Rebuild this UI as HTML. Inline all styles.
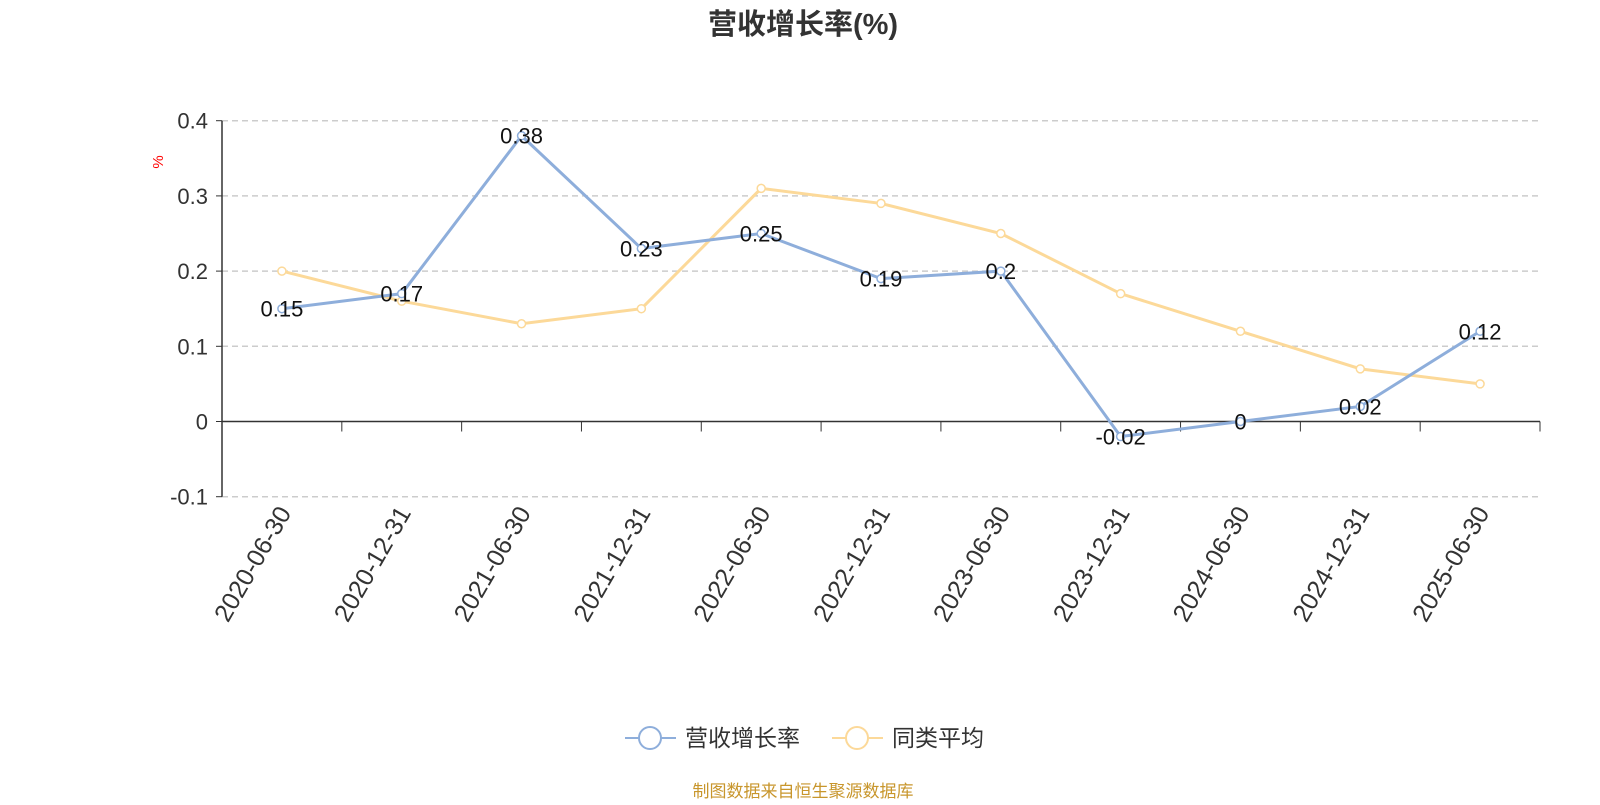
<!DOCTYPE html>
<html><head><meta charset="utf-8"><style>
body{margin:0;background:#fff;}
svg text{font-family:"Liberation Sans","Noto Sans CJK SC",sans-serif;}
</style></head><body>
<svg id="chart" width="1600" height="800">
<text x="803" y="34" text-anchor="middle" font-size="29" font-weight="bold" fill="#333">营收增长率(%)</text>
<text transform="translate(163,162) rotate(-90)" text-anchor="middle" font-size="15" fill="#f00">%</text>
<g id="grid"></g><g id="axes"></g><g id="series"></g>
<g>
<g>
<line x1="625" y1="738" x2="676" y2="738" stroke="#8eaedb" stroke-width="2"/>
<circle cx="650" cy="738" r="11" fill="#fff" stroke="#8eaedb" stroke-width="2"/>
<text x="685" y="746" font-size="23" fill="#333">营收增长率</text></g>
<g>
<line x1="832" y1="738" x2="883" y2="738" stroke="#fcd999" stroke-width="2"/>
<circle cx="857" cy="738" r="11" fill="#fff" stroke="#fcd999" stroke-width="2"/>
<text x="892" y="746" font-size="23" fill="#333">同类平均</text></g>
</g>
<text x="803" y="797" text-anchor="middle" font-size="17" fill="#c8962c">制图数据来自恒生聚源数据库</text>
</svg>
<script>
const categories=["2020-06-30","2020-12-31","2021-06-30","2021-12-31","2022-06-30","2022-12-31","2023-06-30","2023-12-31","2024-06-30","2024-12-31","2025-06-30"];
const revenueGrowth=[0.15,0.17,0.38,0.23,0.25,0.19,0.2,-0.02,0,0.02,0.12];
const peerAverage=[0.2,0.16,0.13,0.15,0.31,0.29,0.25,0.17,0.12,0.07,0.05];
const yTicks=[0.4,0.3,0.2,0.1,0,-0.1];
const NS="http://www.w3.org/2000/svg";
const L=222,R=1540,band=(R-L)/categories.length;
const y=v=>421.5-v*752;
const x=i=>L+band*(i+0.5);
function mk(tag,attrs,parent){const e=document.createElementNS(NS,tag);for(const k in attrs)e.setAttribute(k,attrs[k]);parent.appendChild(e);return e;}
const grid=document.getElementById('grid'),axes=document.getElementById('axes'),series=document.getElementById('series');
yTicks.forEach(t=>{
 if(t!==0){const g=mk('line',{x1:L,x2:R,y1:y(t),y2:y(t),stroke:'#ccc','stroke-dasharray':'6,4','stroke-width':1.5},grid);
 
 }
 const tl=mk('text',{x:L-14,y:y(t)+8,'text-anchor':'end','font-size':22,fill:'#333'},axes);
 tl.textContent=t;
 
 
 mk('line',{x1:L-6,x2:L,y1:y(t),y2:y(t),stroke:'#333'},axes);
});
mk('line',{x1:L,x2:L,y1:y(0.4),y2:y(-0.1),stroke:'#333','stroke-width':1.5},axes);
mk('line',{x1:L,x2:R,y1:y(0),y2:y(0),stroke:'#333','stroke-width':1.5},axes);
for(let i=0;i<=categories.length;i++)mk('line',{x1:L+band*i,x2:L+band*i,y1:y(0),y2:y(0)+10,stroke:'#333'},axes);
categories.forEach((c,i)=>{
 const t=mk('text',{transform:`translate(${x(i)+10},${y(-0.1)+16}) rotate(-60)`,'text-anchor':'end','font-size':25,fill:'#333'},axes);
 t.textContent=c;
 
 
});
function draw(vals,color,name,labels){
 const p=mk('polyline',{points:vals.map((v,i)=>x(i)+','+y(v)).join(' '),fill:'none',stroke:color,'stroke-width':3},series);
 
 
 vals.forEach((v,i)=>{
  const c=mk('circle',{cx:x(i),cy:y(v),r:4,fill:'#fff',stroke:color,'stroke-width':1.5},series);
  
  
  if(labels){const t=mk('text',{x:x(i),y:y(v)+8,'text-anchor':'middle','font-size':22,fill:'#111'},series);
  t.textContent=v;
  
  }
 });
}
draw(peerAverage,'#fcd999','peer-average',false);
draw(revenueGrowth,'#8eaedb','revenue-growth',true);
</script>
</body></html>
